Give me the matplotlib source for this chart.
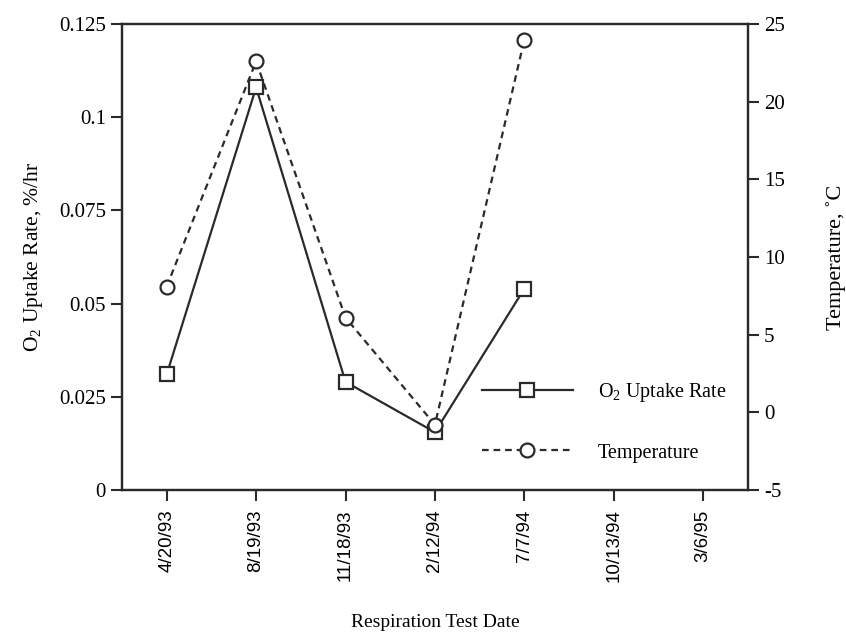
import matplotlib
matplotlib.use("Agg")
import matplotlib.pyplot as plt

# Respiration test data
dates = ["4/20/93", "8/19/93", "11/18/93", "2/12/94", "7/7/94", "10/13/94", "3/6/95"]
o2_uptake = [0.031, 0.108, 0.029, 0.0155, 0.054]      # %/hr
temperature = [8.1, 22.6, 6.1, -0.8, 24.0]           # deg C

plt.rcParams["font.family"] = ["Liberation Serif", "DejaVu Serif"]
plt.rcParams["mathtext.fontset"] = "custom"
plt.rcParams["mathtext.rm"] = "Liberation Serif"
plt.rcParams["axes.unicode_minus"] = False

fig = plt.figure(figsize=(8.46, 6.37), dpi=100)
ax = fig.add_axes([0.1442, 0.2308, 0.7398, 0.7315])
ax2 = ax.twinx()

x_all = list(range(len(dates)))
x_o2 = x_all[:len(o2_uptake)]
x_t = x_all[:len(temperature)]

col = "#2a2a2a"
l1, = ax.plot(x_o2, o2_uptake, color=col, lw=1.6, marker="s", ms=10,
              mfc="white", mec=col, mew=1.6, label="O$_2$ Uptake Rate")
l2, = ax2.plot(x_t, temperature, color=col, lw=1.6, ls=(0, (3, 2.2)), marker="o", ms=10,
               mfc="white", mec=col, mew=1.6, label="Temperature")

ax.set_xlim(-0.5, 6.5)
ax.set_ylim(0, 0.125)
ax.set_yticks([0, 0.025, 0.05, 0.075, 0.1, 0.125])
ax.set_yticklabels(["0", "0.025", "0.05", "0.075", "0.1", "0.125"])
ax2.set_ylim(-5, 25)
ax2.set_yticks([-5, 0, 5, 10, 15, 20, 25])

ax.set_xticks(x_all)
ax.set_xticklabels(dates, rotation=90, family=["Liberation Sans", "DejaVu Sans"],
                   fontsize=13.5)

for a in (ax, ax2):
    for s in a.spines.values():
        s.set_linewidth(1.6)
        s.set_color(col)
ax.tick_params(axis="y", direction="out", length=8, width=1.5, colors=col,
               labelsize=15, labelcolor="black")
ax.tick_params(axis="x", direction="out", length=8, width=1.5, colors=col,
               labelcolor="black", pad=6)
ax2.tick_params(axis="y", direction="out", length=8, width=1.5, colors=col,
                labelsize=15, labelcolor="black")

ax.set_ylabel("O$_2$ Uptake Rate, %/hr", fontsize=15.5, labelpad=10)
ax2.set_ylabel("Temperature, ˚C", fontsize=16, labelpad=30)
ax.set_xlabel("Respiration Test Date", fontsize=14)
ax.xaxis.set_label_coords(0.5, -0.266)

ax.legend(handles=[l1, l2], loc="lower right", bbox_to_anchor=(0.995, 0.02),
          frameon=False, fontsize=14.5, handlelength=4.5, handletextpad=1.25,
          labelspacing=1.95)

fig.savefig("out.png", dpi=100)
